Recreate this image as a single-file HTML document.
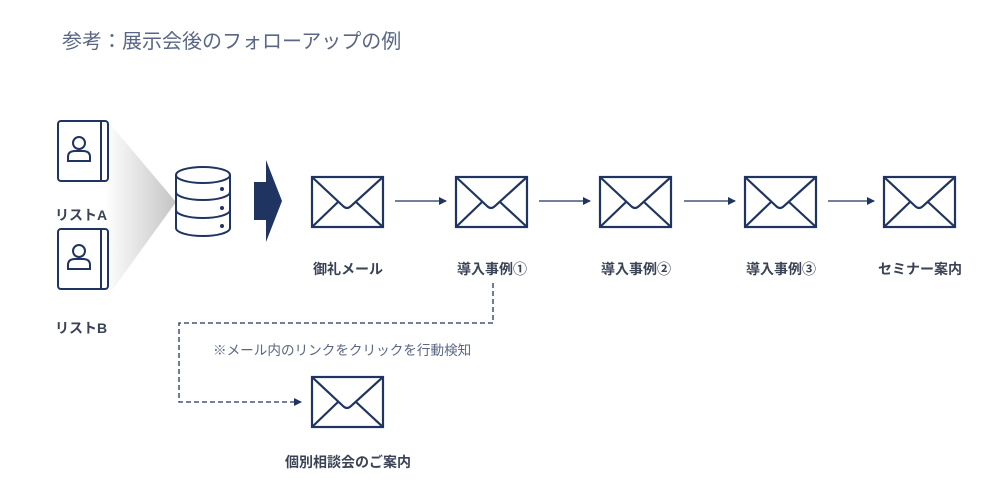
<!DOCTYPE html>
<html><head><meta charset="utf-8"><style>
body{margin:0;background:#fff;width:1000px;height:487px;overflow:hidden;position:relative;font-family:"Liberation Sans","Noto Sans CJK JP",sans-serif;}
.t{position:absolute;white-space:nowrap;}
.lb{font-weight:bold;font-size:14px;color:#3a4255;transform:translateX(-50%);}
</style></head><body>
<div class="t" style="left:62px;top:25px;font-size:20px;color:#5a6784;">参考：展示会後のフォローアップの例</div>
<svg width="1000" height="487" style="position:absolute;left:0;top:0">
<defs>
<linearGradient id="g" x1="0" x2="1" y1="0" y2="0"><stop offset="0" stop-color="#fff"/><stop offset="1" stop-color="#c4c4c4"/></linearGradient>
<marker id="a" markerWidth="8" markerHeight="8" refX="7" refY="4" orient="auto" markerUnits="userSpaceOnUse"><path d="M0,0 L8,4 L0,8 z" fill="#1f3461"/></marker>
<g id="env"><rect x="1" y="1" width="71" height="50" fill="#fff" stroke="#1f3461" stroke-width="2.2"/><path d="M1,1 L32,30 Q36,34 40,30 L72,1 M1,51 L27,26 M72,51 L45,26" fill="none" stroke="#1f3461" stroke-width="2.2"/></g>
<g id="book"><rect x="1" y="1" width="50" height="60" rx="3" fill="#fff" stroke="#1f3461" stroke-width="2"/><line x1="44" y1="1" x2="44" y2="61" stroke="#1f3461" stroke-width="2"/><circle cx="22" cy="23" r="6" fill="none" stroke="#1f3461" stroke-width="2"/><path d="M11,41 L11,37 Q11,31 18,31 L26,31 Q33,31 33,37 L33,41 Z" fill="none" stroke="#1f3461" stroke-width="2"/></g>
</defs>
<polygon points="105,118 176,202 105,300" fill="url(#g)"/>
<use href="#book" x="57" y="120"/>
<use href="#book" x="57" y="228"/>
<g fill="#fff" stroke="#1f3461" stroke-width="2">
<path d="M176,175 L176,228 A27,8 0 0 0 230,228 L230,175"/>
<ellipse cx="203" cy="175" rx="27" ry="8"/>
<path d="M176,192 A27,8 0 0 0 230,192 M176,210 A27,8 0 0 0 230,210" fill="none"/>
</g>
<circle cx="222" cy="189" r="2" fill="#1f3461"/><circle cx="222" cy="208" r="2" fill="#1f3461"/><circle cx="222" cy="226" r="2" fill="#1f3461"/>
<polygon points="254,182 266,182 266,160 282,201 266,242 266,220 254,220" fill="#1f3461"/>
<use href="#env" x="311" y="176"/><use href="#env" x="455" y="176"/><use href="#env" x="599" y="176"/><use href="#env" x="744" y="176"/><use href="#env" x="883" y="176"/>
<use href="#env" x="311" y="376"/>
<g stroke="#1f3461" stroke-width="1.3" marker-end="url(#a)">
<line x1="395" y1="201" x2="446" y2="201"/><line x1="539" y1="201" x2="590" y2="201"/><line x1="684" y1="201" x2="735" y2="201"/><line x1="828" y1="201" x2="874" y2="201"/>
<polyline points="493,283 493,323 179,323 179,402 301,402" fill="none" stroke-dasharray="5,3"/>
</g>
</svg>
<div class="t" style="left:55px;top:205px;font-weight:bold;font-size:14px;color:#3a4255;">リストA</div>
<div class="t" style="left:55px;top:318px;font-weight:bold;font-size:14px;color:#3a4255;">リストB</div>
<div class="t lb" style="left:348px;top:259px;">御礼メール</div>
<div class="t lb" style="left:492px;top:259px;">導入事例①</div>
<div class="t lb" style="left:636px;top:259px;">導入事例②</div>
<div class="t lb" style="left:781px;top:259px;">導入事例③</div>
<div class="t lb" style="left:920px;top:259px;">セミナー案内</div>
<div class="t lb" style="left:348px;top:452px;">個別相談会のご案内</div>
<div class="t" style="left:213px;top:339px;font-size:13.6px;color:#5a6784;">※メール内のリンクをクリックを行動検知</div>
</body></html>
